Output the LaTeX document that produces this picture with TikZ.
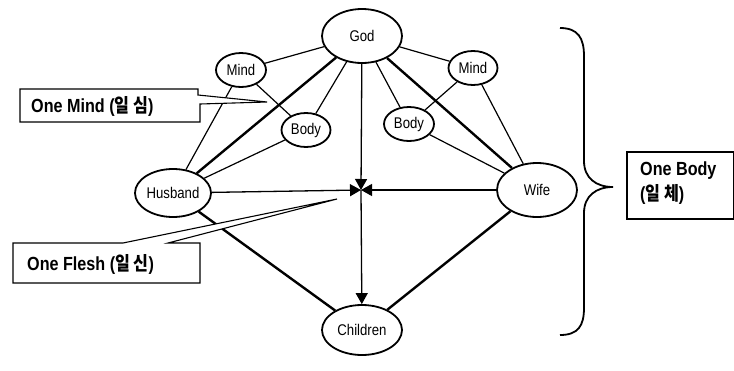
\documentclass[tikz,border=0pt]{standalone}
\usepackage{fontspec}
\setmainfont[FakeStretch=0.85]{Liberation Sans}
\newfontfamily\krfont[FakeStretch=0.85]{Noto Sans CJK KR}
\usetikzlibrary{arrows.meta,shapes.geometric}

\begin{document}
\begin{tikzpicture}[x=1pt, y=-1pt,
		oval/.style={draw, ellipse, line width=1.8pt, inner sep=0pt, font=\fontsize{15.5}{17}\selectfont},
		thin/.style={line width=1.2pt},
		thick/.style={line width=2.4pt},
		arr/.style={line width=1.3pt, -{Triangle[length=11pt, width=12pt]}},
		callout/.style={line width=1.1pt},
		calltext/.style={font=\fontsize{19}{25}\selectfont\bfseries, inner sep=0pt}]
			%%%%% START %%%%%
			
			\useasboundingbox (0,0) rectangle (734,370);
			
			\node[oval, minimum width=80pt, minimum height=54pt] (god) at (362,36) {God};
			\node[oval, minimum width=50pt, minimum height=34pt] (mindL) at (241,70) {Mind};
			\node[oval, minimum width=49pt, minimum height=34pt] (bodyL) at (306,130) {Body};
			\node[oval, minimum width=49pt, minimum height=34pt] (mindR) at (473,68) {Mind};
			\node[oval, minimum width=50pt, minimum height=34pt] (bodyR) at (409,124) {Body};
			\node[oval, minimum width=76pt, minimum height=48pt] (husband) at (173,193) {Husband};
			\node[oval, minimum width=80pt, minimum height=54pt] (wife) at (537,190) {Wife};
			\node[oval, minimum width=80pt, minimum height=50pt] (children) at (362,330) {Children};
			\coordinate (hub) at (361,190);
			
			% left side
			\draw[thin] (god) -- (mindL);
			\draw[thin] (god) -- (bodyL);
			\draw[thin] (mindL) -- (bodyL);
			\draw[thin] (mindL) -- (husband);
			\draw[thin] (bodyL) -- (husband);
			\draw[thick] (god) -- (husband);
			
			% right side
			\draw[thin] (god) -- (mindR);
			\draw[thin] (god) -- (bodyR);
			\draw[thin] (mindR) -- (bodyR);
			\draw[thin] (mindR) -- (wife);
			\draw[thin] (bodyR) -- (wife);
			\draw[thick] (god) -- (wife);
			
			\draw[thick] (husband) -- (children);
			\draw[thick] (wife) -- (children);
			
			% arrows into the middle
			\draw[arr] (god) -- (hub);
			\draw[arr] (husband) -- (hub);
			\draw[arr] (wife) -- (hub);
			\draw[arr] (hub) -- (children);
			
			% One Mind
			\coordinate (mindtip) at (267,102);
			\draw[callout, fill=white] (20,89) -- (198,89) -- (198,95) -- (mindtip) -- (200,104) -- (200,122) -- (20,122) -- cycle;
			\node[calltext, anchor=west] (onemind) at (31,106) {One Mind ({\krfont 일 심})};
			
			% One Flesh
			\coordinate (fleshtip) at (337,199);
			\draw[callout, fill=white] (13,243) -- (123,243) -- (fleshtip) -- (168,243) -- (200,243) -- (200,283) -- (13,283) -- cycle;
			\node[calltext, anchor=west] (oneflesh) at (27,264) {One Flesh ({\krfont 일 신})};
			
			% brace and One Body
			\draw[line width=1.8pt] (560,28) .. controls (578,28) and (584,38) .. (584,56) -- (584,161)
				.. controls (584,178) and (596,187) .. (613,187)
				.. controls (596,187) and (584,196) .. (584,213) -- (584,308)
				.. controls (584,326) and (578,335) .. (560,335);
			\draw[callout] (627,152) rectangle (733.4,219);
			\node[calltext, anchor=north west, align=left] (onebody) at (640,162) {One Body\\({\krfont 일 체})};
			
			%%%%% END %%%%%
		\end{tikzpicture}
\end{document}
